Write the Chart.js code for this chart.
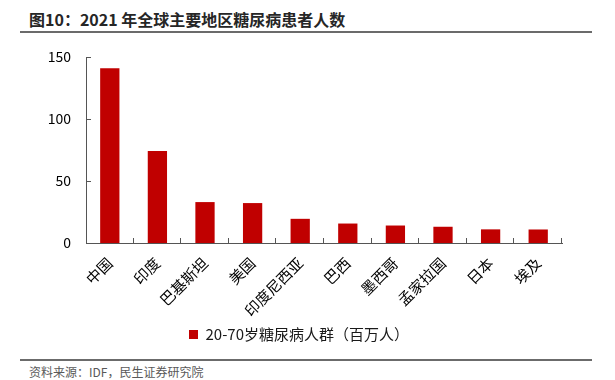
<!DOCTYPE html>
<html><head><meta charset="utf-8">
<script src="https://cdn.jsdelivr.net/npm/chart.js@4.4.1/dist/chart.umd.min.js"></script>
<style>
html,body{margin:0;padding:0;background:#fff;width:615px;height:380px;overflow:hidden;font-family:"Noto Sans CJK SC","Noto Sans",sans-serif;}
#title{position:absolute;left:29px;top:7px;font-size:16px;font-weight:bold;color:#262626;white-space:nowrap;}
#tline{position:absolute;left:20px;top:31px;width:572px;height:2px;background:#6b6b6b;}
#bline{position:absolute;left:20px;top:359px;width:572px;height:2px;background:#6b6b6b;}
#src{position:absolute;left:29px;top:363px;font-size:12px;color:#595959;white-space:nowrap;}
#wrap{position:absolute;left:0;top:0;width:615px;height:356px;}
</style></head>
<body>
<div id="title">图10：2021 年全球主要地区糖尿病患者人数</div>
<div id="tline"></div>
<div id="wrap"><canvas id="c"></canvas></div>
<div id="bline"></div>
<div id="src">资料来源：IDF，民生证券研究院</div>
<script>
const categories = ["中国","印度","巴基斯坦","美国","印度尼西亚","巴西","墨西哥","孟家拉国","日本","埃及"];
const seriesName = "20-70岁糖尿病人群（百万人）";
const values = [140.9, 74.2, 33.0, 32.2, 19.5, 15.7, 14.1, 13.1, 11.0, 10.9];
const yTicks = [0, 50, 100, 150];

const FONT = '"Noto Sans CJK SC","Noto Sans",sans-serif';
const AXIS = '#555555';

const innerTicks = {
  id: 'innerTicks',
  afterDatasetsDraw(chart) {
    const {ctx, chartArea, scales} = chart;
    const x = scales.x, y = scales.y;
    ctx.save();
    ctx.strokeStyle = AXIS;
    ctx.lineWidth = 1;
    ctx.beginPath();
    yTicks.forEach(v => {
      const py = Math.round(y.getPixelForValue(v)) + 0.5;
      ctx.moveTo(chartArea.left, py);
      ctx.lineTo(chartArea.left + 5, py);
    });
    const n = categories.length;
    for (let i = 1; i <= n; i++) {
      let px;
      if (i === n) px = chartArea.right;
      else px = (x.getPixelForValue(i - 1) + x.getPixelForValue(i)) / 2;
      px = Math.round(px) - 0.5;
      ctx.moveTo(px, chartArea.bottom);
      ctx.lineTo(px, chartArea.bottom - 5);
    }
    ctx.stroke();
    ctx.restore();
  }
};

new Chart(document.getElementById('c'), {
  type: 'bar',
  data: {
    labels: categories,
    datasets: [{
      label: seriesName,
      data: values,
      backgroundColor: '#C00000',
      borderWidth: 0,
      categoryPercentage: 1.0,
      barPercentage: 0.405
    }]
  },
  options: {
    responsive: true,
    maintainAspectRatio: false,
    animation: false,
    devicePixelRatio: 1,
    layout: { padding: { left: 36, right: 53, top: 57, bottom: 4 } },
    plugins: {
      legend: {
        position: 'bottom',
        labels: {
          font: { family: FONT, size: 15 },
          color: '#1a1a1a',
          boxWidth: 9,
          boxHeight: 9,
          padding: 8
        }
      },
      tooltip: { enabled: false },
      title: { display: false }
    },
    scales: {
      x: {
        grid: { display: false, drawTicks: false },
        border: { display: true, color: AXIS, width: 1 },
        ticks: {
          font: { family: FONT, size: 15 },
          color: '#000',
          minRotation: 45,
          maxRotation: 45,
          autoSkip: false,
          padding: 11
        },
        afterFit(scale) { scale.height = 76; }
      },
      y: {
        min: 0,
        max: 150,
        afterBuildTicks(scale) { scale.ticks = yTicks.map(v => ({ value: v })); },
        grid: { display: false, drawTicks: false },
        border: { display: true, color: AXIS, width: 1 },
        ticks: {
          font: { family: FONT, size: 14 },
          color: '#000',
          padding: 15
        },
        afterFit(scale) { scale.width = 50; }
      }
    }
  },
  plugins: [innerTicks]
});
</script>
</body></html>
